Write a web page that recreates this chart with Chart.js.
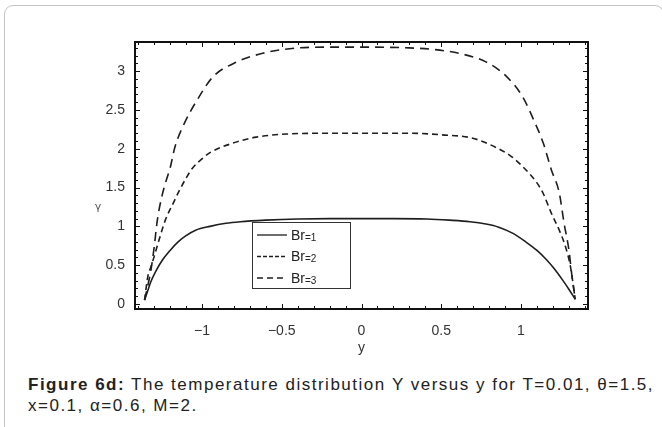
<!DOCTYPE html>
<html>
<head>
<meta charset="utf-8">
<script src="https://cdn.jsdelivr.net/npm/chart.js@4/dist/chart.umd.min.js"></script>
<style>
    body { margin: 0; background: #fff; font-family: "Liberation Sans", Arial, sans-serif; }
    #card {
        position: absolute; left: 4px; top: 5px; width: 660px; height: 430px;
        border: 1px solid #c4c4c4; border-radius: 9px; box-sizing: border-box;
    }
    #wrap { position: absolute; left: 0; top: 0; width: 662px; height: 360px; }
    #caption {
        position: absolute; left: 28px; top: 374px; width: 632px; white-space: nowrap;
        font-size: 17px; letter-spacing: 1.5px; line-height: 21px; color: #222;
    }
</style>
</head>
<body>
<div id="card"></div>
<div id="wrap"><canvas id="chart"></canvas></div>
<div id="caption"><b>Figure 6d:</b> The temperature distribution Υ versus y for T=0.01, θ=1.5,<br>x=0.1, α=0.6, M=2.</div>
<script>
// Tick labels
const xTicks = [-1, -0.5, 0, 0.5, 1];
const yTicks = [0, 0.5, 1, 1.5, 2, 2.5, 3];

// Br=1
const br1X = [-1.36, -1.34, -1.32, -1.29, -1.25, -1.2, -1.15, -1.1, -1.04, -0.95, -0.85, -0.76, -0.6, -0.4, -0.2, 0, 0.2, 0.41, 0.55, 0.68, 0.78, 0.86, 0.95, 1.03, 1.1, 1.16, 1.21, 1.26, 1.3, 1.34];
const br1Y = [0.05, 0.17, 0.29, 0.42, 0.56, 0.69, 0.80, 0.88, 0.95, 1.00, 1.04, 1.06, 1.08, 1.095, 1.10, 1.10, 1.10, 1.095, 1.08, 1.06, 1.03, 0.99, 0.91, 0.80, 0.69, 0.57, 0.45, 0.31, 0.19, 0.06];

// Br=2
const br2X = [-1.36, -1.34, -1.32, -1.3, -1.27, -1.23, -1.18, -1.14, -1.1, -1.06, -1.0, -0.95, -0.81, -0.66, -0.47, -0.2, 0, 0.3, 0.5, 0.69, 0.84, 0.94, 1.03, 1.1, 1.14, 1.19, 1.24, 1.28, 1.31, 1.34];
const br2Y = [0.05, 0.35, 0.48, 0.61, 0.82, 1.08, 1.30, 1.47, 1.62, 1.75, 1.87, 1.95, 2.07, 2.15, 2.19, 2.20, 2.20, 2.20, 2.18, 2.14, 2.02, 1.90, 1.73, 1.56, 1.42, 1.17, 0.95, 0.73, 0.48, 0.06];

// Br=3
const br3X = [-1.36, -1.32, -1.3, -1.28, -1.25, -1.22, -1.2, -1.17, -1.11, -1.03, -0.93, -0.78, -0.62, -0.45, -0.2, 0, 0.3, 0.45, 0.61, 0.78, 0.91, 1.01, 1.08, 1.14, 1.19, 1.24, 1.27, 1.3, 1.32, 1.34];
const br3Y = [0.05, 0.44, 0.73, 1.08, 1.40, 1.62, 1.75, 2.02, 2.33, 2.63, 2.93, 3.12, 3.23, 3.29, 3.31, 3.31, 3.30, 3.28, 3.23, 3.12, 2.93, 2.67, 2.37, 2.07, 1.73, 1.43, 1.04, 0.70, 0.35, 0.06];

const seriesNames = ['Br=1', 'Br=2', 'Br=3'];

function toPoints(xs, ys) {
    return xs.map((x, i) => ({ x: x, y: ys[i] }));
}

const lineColor = '#1e1e1e';

// Frame with inward ticks on all four sides, plus axis titles and legend box
const framePlugin = {
    id: 'frame',
    afterDraw(chart) {
        const ctx = chart.ctx;
        const a = chart.chartArea;
        const xs = chart.scales.x;
        const ys = chart.scales.y;
        ctx.save();
        ctx.strokeStyle = '#111';
        ctx.lineWidth = 1;
        // minor + major ticks
        for (let i = -14; i <= 14; i++) {
            const v = i / 10;
            const px = Math.round(xs.getPixelForValue(v)) + 0.5;
            const len = (i % 5 === 0) ? 5 : 3;
            ctx.beginPath();
            ctx.moveTo(px, a.bottom); ctx.lineTo(px, a.bottom - len);
            ctx.moveTo(px, a.top); ctx.lineTo(px, a.top + len);
            ctx.stroke();
        }
        for (let i = 0; i <= 33; i++) {
            const v = i / 10;
            const py = Math.round(ys.getPixelForValue(v)) + 0.5;
            const len = (i % 5 === 0) ? 5 : 3;
            ctx.beginPath();
            ctx.moveTo(a.left, py); ctx.lineTo(a.left + len, py);
            ctx.moveTo(a.right, py); ctx.lineTo(a.right - len, py);
            ctx.stroke();
        }
        ctx.lineWidth = 2;
        ctx.strokeRect(a.left, a.top, a.right - a.left, a.bottom - a.top);

        // axis titles
        ctx.fillStyle = '#333';
        ctx.font = '14px "Liberation Sans", Arial, sans-serif';
        ctx.textAlign = 'center';
        ctx.textBaseline = 'middle';
        ctx.fillText('y', (a.left + a.right) / 2, 348);
        ctx.font = '11px "DejaVu Sans", sans-serif';
        ctx.fillStyle = '#555';
        ctx.fillText('γ', 98, 207);

        // legend box
        const lx = 252, ly = 222, lw = 98, lh = 66;
        ctx.fillStyle = '#fff';
        ctx.fillRect(lx, ly, lw, lh);
        ctx.lineWidth = 1;
        ctx.strokeStyle = '#333';
        ctx.strokeRect(lx + 0.5, ly + 0.5, lw, lh);
        chart.data.datasets.forEach((ds, i) => {
            const yy = 235 + i * 21.5;
            ctx.strokeStyle = lineColor;
            ctx.lineWidth = 1.3;
            ctx.setLineDash(i === 0 ? [] : (i === 1 ? [4, 2] : [6, 4]));
            ctx.beginPath();
            ctx.moveTo(257, yy); ctx.lineTo(287, yy);
            ctx.stroke();
            ctx.setLineDash([]);
            ctx.fillStyle = '#222';
            ctx.textAlign = 'left';
            ctx.font = '14px "Liberation Sans", Arial, sans-serif';
            ctx.fillText('Br', 291, yy + 1);
            const w = ctx.measureText('Br').width;
            ctx.font = '10px "Liberation Sans", Arial, sans-serif';
            ctx.fillText(ds.label.slice(2), 291 + w, yy + 3);
        });
        ctx.restore();
    }
};

const ctx = document.getElementById('chart').getContext('2d');
const myChart = new Chart(ctx, {
    type: 'line',
    data: {
        datasets: [
            { label: seriesNames[0], data: toPoints(br1X, br1Y), borderDash: [] },
            { label: seriesNames[1], data: toPoints(br2X, br2Y), borderDash: [6, 4] },
            { label: seriesNames[2], data: toPoints(br3X, br3Y), borderDash: [9, 6] }
        ].map(ds => Object.assign(ds, {
            borderColor: lineColor,
            borderWidth: 1.6,
            pointRadius: 0,
            fill: false,
            cubicInterpolationMode: 'monotone'
        }))
    },
    options: {
        responsive: true,
        maintainAspectRatio: false,
        animation: false,
        layout: { padding: { top: 42, right: 74, left: 0, bottom: 0 } },
        plugins: {
            legend: { display: false },
            tooltip: { enabled: false }
        },
        scales: {
            x: {
                type: 'linear',
                min: -1.42,
                max: 1.42,
                grid: { display: false, drawTicks: false },
                border: { display: false },
                afterBuildTicks: s => { s.ticks = xTicks.map(v => ({ value: v })); },
                afterFit: s => { s.height = 51; },
                ticks: {
                    padding: 14,
                    color: '#333',
                    font: { size: 14, family: '"Liberation Sans", Arial, sans-serif' },
                    callback: v => (v < 0 ? '\u2212' + Math.abs(v) : String(v))
                }
            },
            y: {
                min: -0.065,
                max: 3.376,
                grid: { display: false, drawTicks: false },
                border: { display: false },
                afterBuildTicks: s => { s.ticks = yTicks.map(v => ({ value: v })); },
                afterFit: s => { s.width = 135; },
                ticks: {
                    padding: 10,
                    color: '#333',
                    font: { size: 14, family: '"Liberation Sans", Arial, sans-serif' },
                    callback: v => String(v)
                }
            }
        }
    },
    plugins: [framePlugin]
});
</script>
</body>
</html>
